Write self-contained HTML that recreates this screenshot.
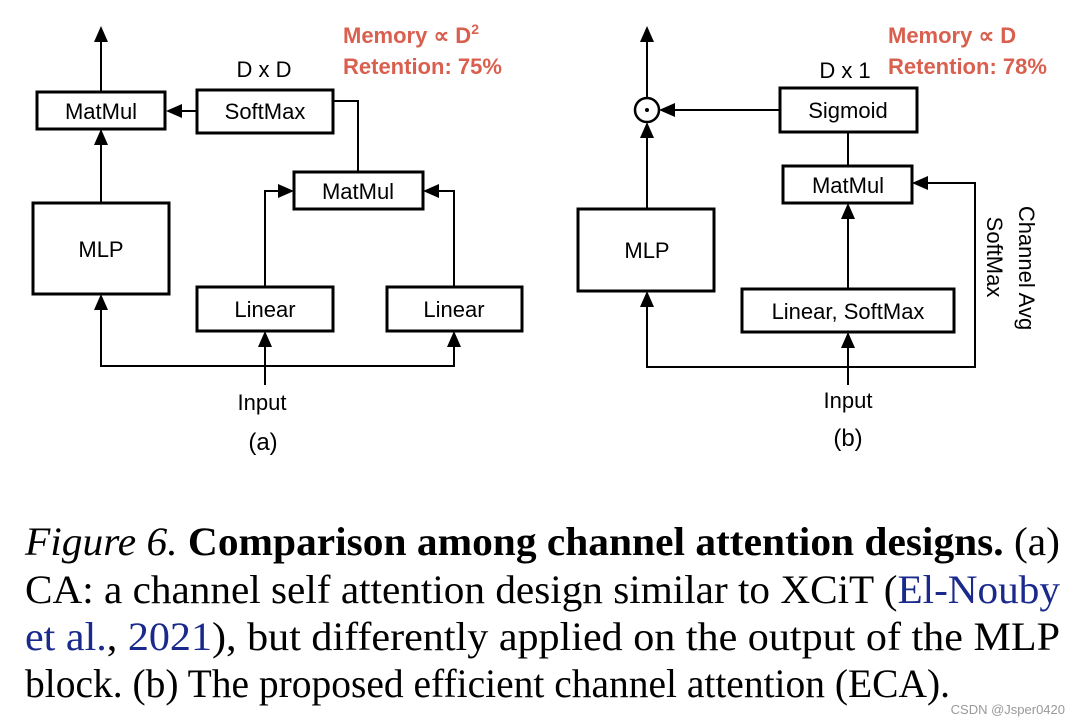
<!DOCTYPE html>
<html><head><meta charset="utf-8"><style>
html,body{margin:0;padding:0;background:#fff;}
svg{display:block;}
</style></head><body>
<svg width="1080" height="728" viewBox="0 0 1080 728" xmlns="http://www.w3.org/2000/svg">
<rect width="1080" height="728" fill="#fff"/>
<g font-family="'Liberation Sans', sans-serif" font-size="22" fill="#000" text-anchor="middle">
<!-- (a) -->
<g stroke="#000" stroke-width="3" fill="none">
<rect x="37" y="92" width="128" height="37"/>
<rect x="197" y="90" width="136" height="43"/>
<rect x="33" y="203" width="136" height="91"/>
<rect x="294" y="172" width="129" height="37"/>
<rect x="197" y="287" width="136" height="44"/>
<rect x="387" y="287" width="135" height="44"/>
</g>
<g stroke="#000" stroke-width="2" fill="none">
<line x1="101" y1="92" x2="101" y2="38"/>
<line x1="101" y1="203" x2="101" y2="140"/>
<line x1="197" y1="111" x2="178" y2="111"/>
<polyline points="333,101 358,101 358,172"/>
<polyline points="265,287 265,191 282,191"/>
<polyline points="454,287 454,191 436,191"/>
<polyline points="101,305 101,366 454,366 454,343"/>
<line x1="265" y1="385" x2="265" y2="343"/>
</g>
<g fill="#000">
<polygon points="101,26 94,42 108,42"/>
<polygon points="101,129 94,145 108,145"/>
<polygon points="166,111 182,104 182,118"/>
<polygon points="294,191 278,184 278,198"/>
<polygon points="423,191 439,184 439,198"/>
<polygon points="101,294 94,310 108,310"/>
<polygon points="265,331 258,347 272,347"/>
<polygon points="454,331 447,347 461,347"/>
</g>
<text x="101" y="119">MatMul</text>
<text x="265" y="119">SoftMax</text>
<text x="101" y="257">MLP</text>
<text x="358" y="199">MatMul</text>
<text x="265" y="317">Linear</text>
<text x="454" y="317">Linear</text>
<text x="264" y="77">D x D</text>
<text x="262" y="410">Input</text>
<text x="263" y="450" font-size="24">(a)</text>
<g fill="#d9604f" font-weight="bold" text-anchor="start" font-size="22">
<text x="343" y="43">Memory ∝ D<tspan font-size="14" dy="-9">2</tspan></text>
<text x="343" y="74">Retention: 75%</text>
</g>
<!-- (b) -->
<g stroke="#000" stroke-width="3" fill="none">
<rect x="780" y="88" width="137" height="44"/>
<rect x="783" y="166" width="129" height="37"/>
<rect x="578" y="209" width="136" height="82"/>
<rect x="742" y="289" width="212" height="43"/>
</g>
<circle cx="647" cy="110" r="12" stroke="#000" stroke-width="2.5" fill="none"/>
<circle cx="647" cy="110" r="2" fill="#000"/>
<g stroke="#000" stroke-width="2" fill="none">
<line x1="647" y1="98" x2="647" y2="38"/>
<line x1="647" y1="209" x2="647" y2="134"/>
<line x1="780" y1="110" x2="672" y2="110"/>
<line x1="848" y1="132" x2="848" y2="166"/>
<line x1="848" y1="289" x2="848" y2="215"/>
<polyline points="647,303 647,367 975,367 975,183 925,183"/>
<line x1="848" y1="385" x2="848" y2="344"/>
</g>
<g fill="#000">
<polygon points="647,26 640,42 654,42"/>
<polygon points="647,122 640,138 654,138"/>
<polygon points="659,110 675,103 675,117"/>
<polygon points="848,203 841,219 855,219"/>
<polygon points="912,183 928,176 928,190"/>
<polygon points="647,291 640,307 654,307"/>
<polygon points="848,332 841,348 855,348"/>
</g>
<text x="848" y="118">Sigmoid</text>
<text x="848" y="193">MatMul</text>
<text x="647" y="258">MLP</text>
<text x="848" y="319">Linear, SoftMax</text>
<text x="845" y="78">D x 1</text>
<text x="848" y="408">Input</text>
<text x="848" y="446" font-size="24">(b)</text>
<text transform="translate(1019,268) rotate(90)">Channel Avg</text>
<text transform="translate(987,257) rotate(90)">SoftMax</text>
<g fill="#d9604f" font-weight="bold" text-anchor="start" font-size="22">
<text x="888" y="43">Memory ∝ D</text>
<text x="888" y="74">Retention: 78%</text>
</g>
</g>
<!-- caption -->
<g font-family="'Liberation Serif', serif" font-size="40" fill="#000">
<text x="25" y="555" textLength="1035" lengthAdjust="spacingAndGlyphs"><tspan font-style="italic">Figure 6.</tspan> <tspan font-weight="bold">Comparison among channel attention designs.</tspan>  (a)</text>
<text x="25" y="603" textLength="1035" lengthAdjust="spacingAndGlyphs">CA: a channel self attention design similar to XCiT (<tspan fill="#1a2a8c">El-Nouby</tspan></text>
<text x="25" y="650" textLength="1035" lengthAdjust="spacingAndGlyphs"><tspan fill="#1a2a8c">et al.</tspan>, <tspan fill="#1a2a8c">2021</tspan>), but differently applied on the output of the MLP</text>
<text x="25" y="697" textLength="925" lengthAdjust="spacingAndGlyphs">block. (b) The proposed efficient channel attention (ECA).</text>
</g>
<text x="1065" y="714" font-family="'Liberation Sans', sans-serif" font-size="13" fill="#999" text-anchor="end">CSDN @Jsper0420</text>
</svg>
</body></html>
